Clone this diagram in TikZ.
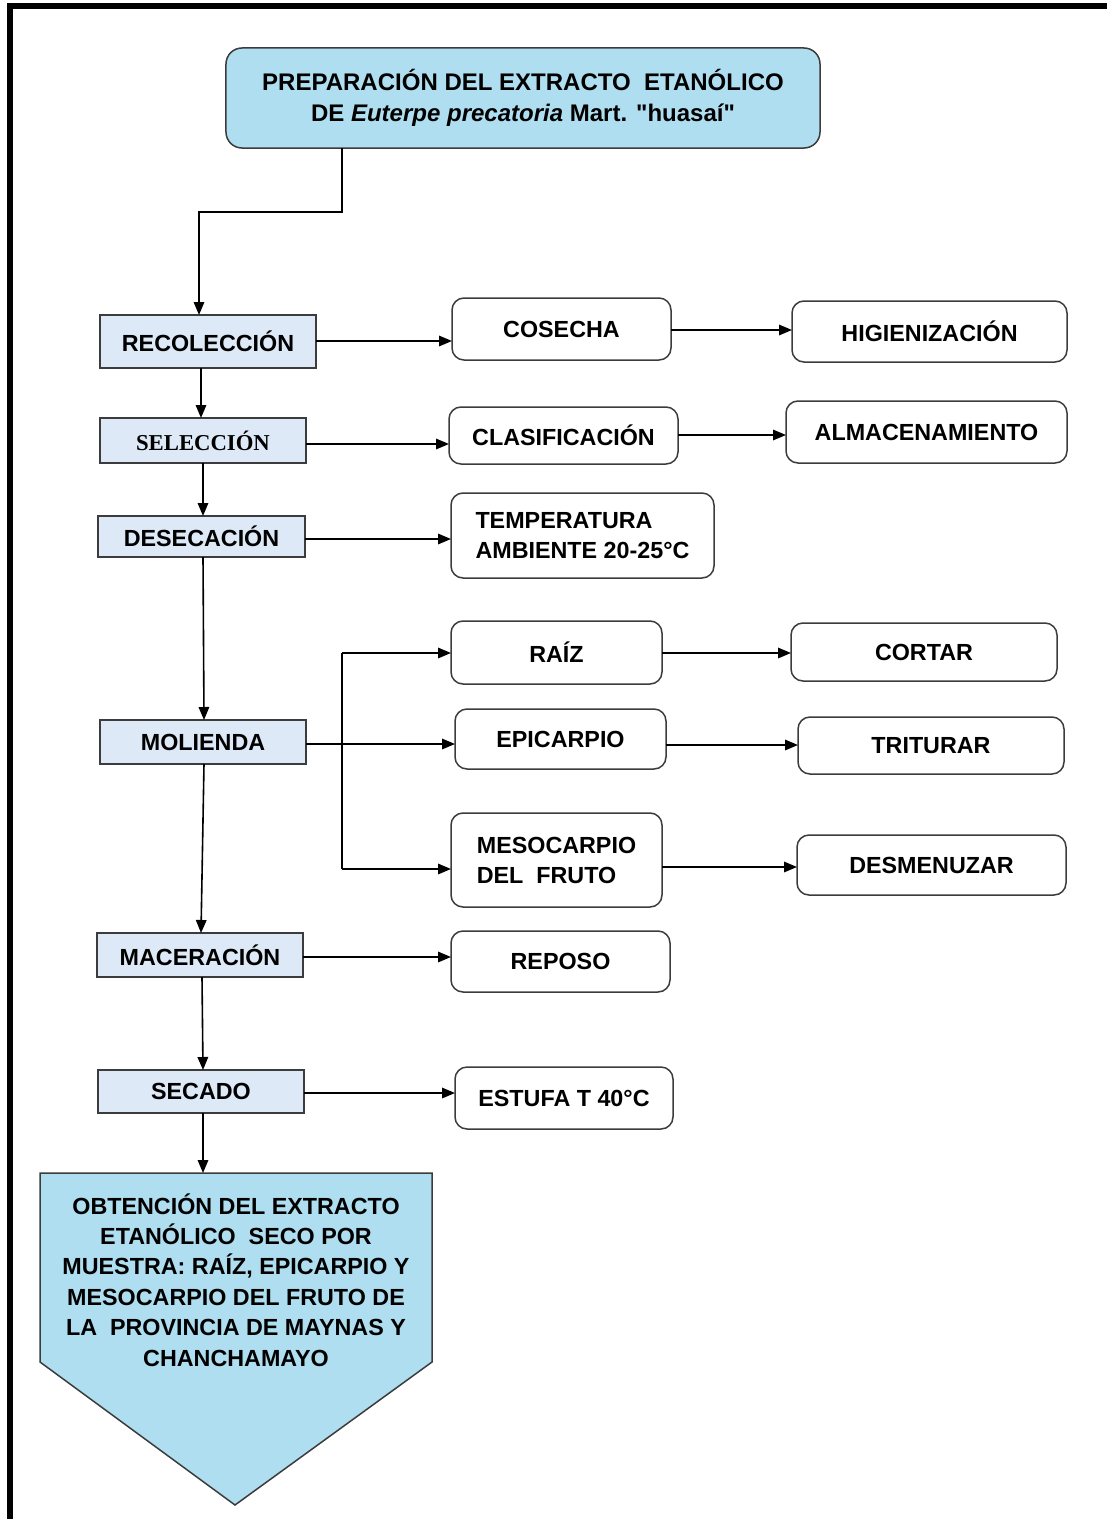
\documentclass[tikz,border=0pt]{standalone}
\usepackage{fontspec}
\setmainfont{Liberation Sans}
\newfontfamily\serifb{Liberation Serif}
\usetikzlibrary{arrows.meta,calc}
\definecolor{titleblue}{RGB}{174,222,240}
\definecolor{stepblue}{RGB}{221,233,246}
\definecolor{edgegray}{RGB}{60,60,60}
\newcommand\sq{\XeTeXglyph\XeTeXcharglyph"22\relax}
\tikzset{
 base/.style={draw=edgegray, line width=1.5bp, inner sep=0pt, outer sep=0pt,
   font=\bfseries\fontsize{23.4}{30.1}\selectfont, text=black},
 leftbox/.style={base, fill=stepblue, rectangle},
 rightbox/.style={base, fill=white, rounded corners=12bp, align=left},
 titlebox/.style={base, fill=titleblue, rounded corners=16bp, align=center,
   font=\bfseries\fontsize{24.1}{30.8}\selectfont},
 arr/.style={line width=1.6bp, -{Triangle[length=13bp,width=10.5bp]}},
 conn/.style={line width=1.6bp},
}
\newcommand\bx[7]{%
 \pgfmathsetmacro\bxw{(#4-#2)}%
 \pgfmathsetmacro\bxh{(#5-#3)}%
 \pgfmathsetmacro\bxcx{(#2+#4)/2}%
 \pgfmathsetmacro\bxcy{(#3+#5)/2}%
 \node[#6, minimum width=\bxw bp, minimum height=\bxh bp] (#1) at (\bxcx,\bxcy) {#7};}
\begin{document}
\begin{tikzpicture}[x=1bp,y=-1bp]
\path[use as bounding box, fill=white] (0,0) rectangle (1107,1519);
% frame
\fill[black] (6.5,3.5) rectangle (12.5,1519);

% title
\bx{title}{226}{48}{820}{148}{titlebox}{PREPARACIÓN DEL EXTRACTO~ ETANÓLICO\\DE \textit{Euterpe precatoria} Mart. \sq huasaí\sq}

% left column
\bx{recol}{100}{315}{316}{368}{leftbox}{RECOLECCIÓN}
\bx{selec}{100}{418}{306}{463}{leftbox}{{\serifb\bfseries\fontsize{22.8}{27}\selectfont SELECCIÓN}}
\bx{desec}{98}{516}{305}{557}{leftbox}{DESECACIÓN}
\bx{molie}{100}{720}{306}{764}{leftbox}{MOLIENDA}
\bx{macer}{97}{933}{303}{977}{leftbox}{MACERACIÓN}
\bx{secad}{98}{1070}{304}{1113}{leftbox}{SECADO}

% right boxes
\bx{cosec}{452}{298}{671}{360}{rightbox}{COSECHA}
\bx{higie}{792}{301}{1067}{362}{rightbox}{HIGIENIZACIÓN}
\bx{clasi}{449}{407}{678}{464}{rightbox}{CLASIFICACIÓN}
\bx{almac}{786}{401}{1067}{463}{rightbox}{ALMACENAMIENTO}
\bx{tempe}{451}{493}{714}{578}{rightbox}{TEMPERATURA\\AMBIENTE 20-25°C}
\bx{raiz}{451}{621}{662}{684}{rightbox}{RAÍZ}
\bx{corta}{791}{623}{1057}{681}{rightbox}{CORTAR}
\bx{epica}{455}{709}{666}{769}{rightbox}{EPICARPIO}
\bx{tritu}{798}{717}{1064}{774}{rightbox}{TRITURAR}
\bx{mesoc}{451}{813}{662}{907}{rightbox}{MESOCARPIO\\DEL~ FRUTO}
\bx{desme}{797}{835}{1066}{895}{rightbox}{DESMENUZAR}
\bx{repos}{451}{931}{670}{992}{rightbox}{REPOSO}
\bx{estuf}{455}{1067}{673}{1129}{rightbox}{ESTUFA T 40°C}

% final pentagon
\draw[draw=edgegray, line width=1.5bp, fill=titleblue]
  (40,1173) -- (432,1173) -- (432,1362) -- (235,1505) -- (40,1362) -- cycle;
\coordinate (ptop) at (203,1173);
\node[align=center, inner sep=0pt, font=\bfseries\fontsize{23.4}{30.6}\selectfont] (obten) at (236,1280)
 {OBTENCIÓN DEL EXTRACTO\\ETANÓLICO~ SECO POR\\MUESTRA: RAÍZ, EPICARPIO Y\\MESOCARPIO DEL FRUTO DE\\LA~ PROVINCIA DE MAYNAS Y\\CHANCHAMAYO};

% top connector
\coordinate (elb) at (199,212);
\draw[arr] (title.south -| 342,0) |- (elb) -- (recol.north -| elb);

% vertical connectors
\draw[arr] (recol.south -| 201,0) -- (selec.north -| 201,0);
\draw[arr] (selec.south -| 203,0) -- (desec.north -| 203,0);
\draw[arr] (desec.south -| 203,0) -- (molie.north -| 204,0);
\draw[arr] (molie.south -| 204,0) -- (macer.north -| 201,0);
\draw[arr] (macer.south -| 202,0) -- (secad.north -| 203,0);
\draw[arr] (secad.south -| 203,0) -- (ptop);

% horizontal connectors
\draw[arr] (recol.east |- 0,341) -- (cosec.west |- 0,341);
\draw[arr] (cosec.east |- 0,330) -- (higie.west |- 0,330);
\draw[arr] (selec.east |- 0,444) -- (clasi.west |- 0,444);
\draw[arr] (clasi.east |- 0,435) -- (almac.west |- 0,435);
\draw[arr] (desec.east |- 0,539) -- (tempe.west |- 0,539);
\draw[arr] (molie.east |- 0,744) -- (epica.west |- 0,744);
\coordinate (jt) at (342,653);
\coordinate (jb) at (342,869);
\draw[conn] (jt) -- (jb);
\draw[arr] (jt) -- (raiz.west |- jt);
\draw[arr] (jb) -- (mesoc.west |- jb);
\draw[arr] (raiz.east |- 0,653) -- (corta.west |- 0,653);
\draw[arr] (epica.east |- 0,745) -- (tritu.west |- 0,745);
\draw[arr] (mesoc.east |- 0,867) -- (desme.west |- 0,867);
\draw[arr] (macer.east |- 0,957) -- (repos.west |- 0,957);
\draw[arr] (secad.east |- 0,1093) -- (estuf.west |- 0,1093);

% keep the right margin white, then the top frame bar
\fill[white] (1090,9.5) rectangle (1107,1519);
\fill[black] (6.5,3.5) rectangle (1107,9.5);
\end{tikzpicture}
\end{document}
